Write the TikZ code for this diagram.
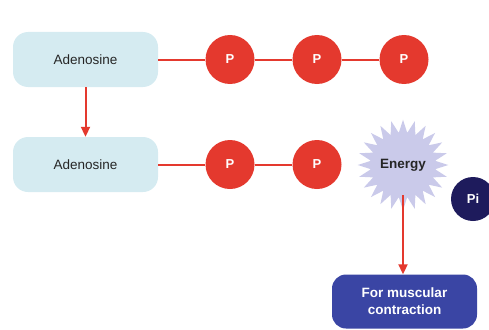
\documentclass[tikz,border=0pt]{standalone}
\usepackage{fontspec}
\setmainfont{Liberation Sans}
\usepackage{tikz}
\usetikzlibrary{positioning,shapes.geometric,arrows.meta}

\definecolor{boxblue}{HTML}{D5EBF1}
\definecolor{pred}{HTML}{E4392E}
\definecolor{burst}{HTML}{CACAEA}
\definecolor{pinavy}{HTML}{1E1B5C}
\definecolor{musblue}{HTML}{3A45A4}

\tikzset{
	base/.style={draw=none, fill=boxblue, rounded corners=15pt, minimum width=145pt, minimum height=55pt, font=\fontsize{13.5}{15}\selectfont, text=black!85},
	phos/.style={circle, fill=pred, minimum size=49pt, inner sep=0pt, text=white, font=\bfseries\fontsize{13}{15}\selectfont},
	link/.style={pred, line width=2pt},
	flow/.style={pred, line width=2pt, -{Triangle[length=10pt, width=9pt]}}
}

\begin{document}
\begin{tikzpicture}[x=1pt, y=-1pt]
	\useasboundingbox (0,0) rectangle (489,329);
	\node[base] (ade1) at (85.5,59.5) {Adenosine};
	\node[base] (ade2) at (85.5,164.5) {Adenosine};
	\node[phos] (p1) at (230,59.5) {P};
	\node[phos] (p2) at (317,59.5) {P};
	\node[phos] (p3) at (404,59.5) {P};
	\node[phos] (p4) at (230,164.5) {P};
	\node[phos] (p5) at (317,164.5) {P};
	\node[star, star points=24, star point ratio=1.4, minimum size=83pt, inner sep=0pt, fill=burst, font=\bfseries\fontsize{13.5}{15}\selectfont, text=black!85] (energy) at (403,165) {Energy};
	\node[circle, fill=pinavy, minimum size=44pt, inner sep=0pt, text=white, font=\bfseries\fontsize{13}{15}\selectfont] (pi) at (473,199) {Pi};
	\node[rounded corners=14pt, fill=musblue, minimum width=145pt, minimum height=54pt, align=center, text=white, font=\bfseries\fontsize{13.5}{17}\selectfont] (muscle) at (404.5,301.5) {For muscular\\contraction};
	\coordinate (estart) at (403,195);
	\draw[link] (ade1) -- (p1);
	\draw[link] (p1) -- (p2);
	\draw[link] (p2) -- (p3);
	\draw[link] (ade2) -- (p4);
	\draw[link] (p4) -- (p5);
	\draw[flow] (ade1) -- (ade2);
	\draw[flow] (estart) -- (estart |- muscle.north);
\end{tikzpicture}
\end{document}
